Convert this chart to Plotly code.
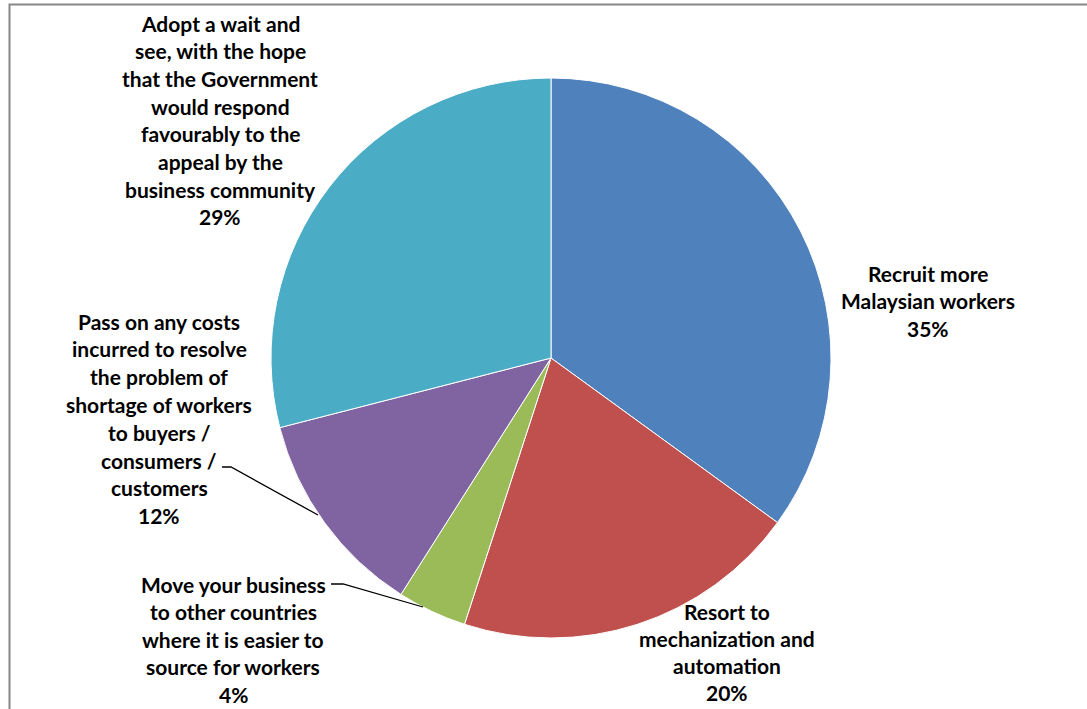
import plotly.graph_objects as go

W, H = 1087, 709

# Survey responses (percent of respondents)
categories = [
    "Recruit more Malaysian workers",
    "Resort to mechanization and automation",
    "Move your business to other countries where it is easier to source for workers",
    "Pass on any costs incurred to resolve the problem of shortage of workers to buyers / consumers / customers",
    "Adopt a wait and see, with the hope that the Government would respond favourably to the appeal by the business community",
]
values = [35, 20, 4, 12, 29]
colors = ["#4F81BD", "#C0504D", "#9BBB59", "#8064A2", "#4BACC6"]

# Wrapped label lines for each slice (name lines, then the percentage)
label_lines = [
    ["Recruit more", "Malaysian workers"],
    ["Resort to", "mechanization and", "automation"],
    ["Move your business", "to other countries", "where it is easier to", "source for workers"],
    ["Pass on any costs", "incurred to resolve", "the problem of", "shortage of workers",
     "to buyers /", "consumers /", "customers"],
    ["Adopt a wait and", "see, with the hope", "that the Government", "would respond",
     "favourably to the", "appeal by the", "business community"],
]
# Label block placement: centre x, first-line y, line pitch (pixels)
label_pos = [
    (928, 273, 27.5),
    (727, 611, 27.0),
    (233, 584, 27.5),
    (159, 321, 27.8),
    (220, 23, 27.7),
]

# Pie geometry in pixels
cx, cy, r = 551, 358, 280

fig = go.Figure()
fig.add_trace(go.Pie(
    labels=categories,
    values=values,
    sort=False,
    direction="clockwise",
    rotation=0,
    marker=dict(colors=colors, line=dict(color="#FFFFFF", width=1)),
    textinfo="none",
    hoverinfo="label+percent",
    showlegend=False,
    domain=dict(x=[(cx - r) / W, (cx + r) / W], y=[(H - cy - r) / H, (H - cy + r) / H]),
))

annotations = []
font = dict(family="Lato, Carlito, Calibri, sans-serif", size=21, color="#000000")
for lines, val, (lx, ly, pitch) in zip(label_lines, values, label_pos):
    for i, t in enumerate(lines + [f"{val}%"]):
        annotations.append(dict(
            x=lx, y=ly + i * pitch, xref="x", yref="y",
            text=f"<b>{t}</b>", showarrow=False,
            xanchor="center", yanchor="middle", font=font,
        ))

shapes = [
    # chart area border
    dict(type="path", xref="x", yref="y",
         path=f"M 9.5 {H + 5} L 9.5 4.5 L {W + 5} 4.5",
         line=dict(color="#878787", width=2)),
    # leader line for the 12% slice
    dict(type="path", xref="x", yref="y",
         path="M 222 467 L 231 467 L 318 515",
         line=dict(color="#000000", width=1.3)),
    # leader line for the 4% slice
    dict(type="path", xref="x", yref="y",
         path="M 331 584 L 343 584 L 423 607",
         line=dict(color="#000000", width=1.3)),
]

fig.update_layout(
    width=W, height=H,
    margin=dict(l=0, r=0, t=0, b=0),
    paper_bgcolor="#FFFFFF", plot_bgcolor="rgba(0,0,0,0)",
    xaxis=dict(range=[0, W], visible=False, fixedrange=True),
    yaxis=dict(range=[H, 0], visible=False, fixedrange=True),
    annotations=annotations, shapes=shapes,
)

fig.write_html("out.html")
